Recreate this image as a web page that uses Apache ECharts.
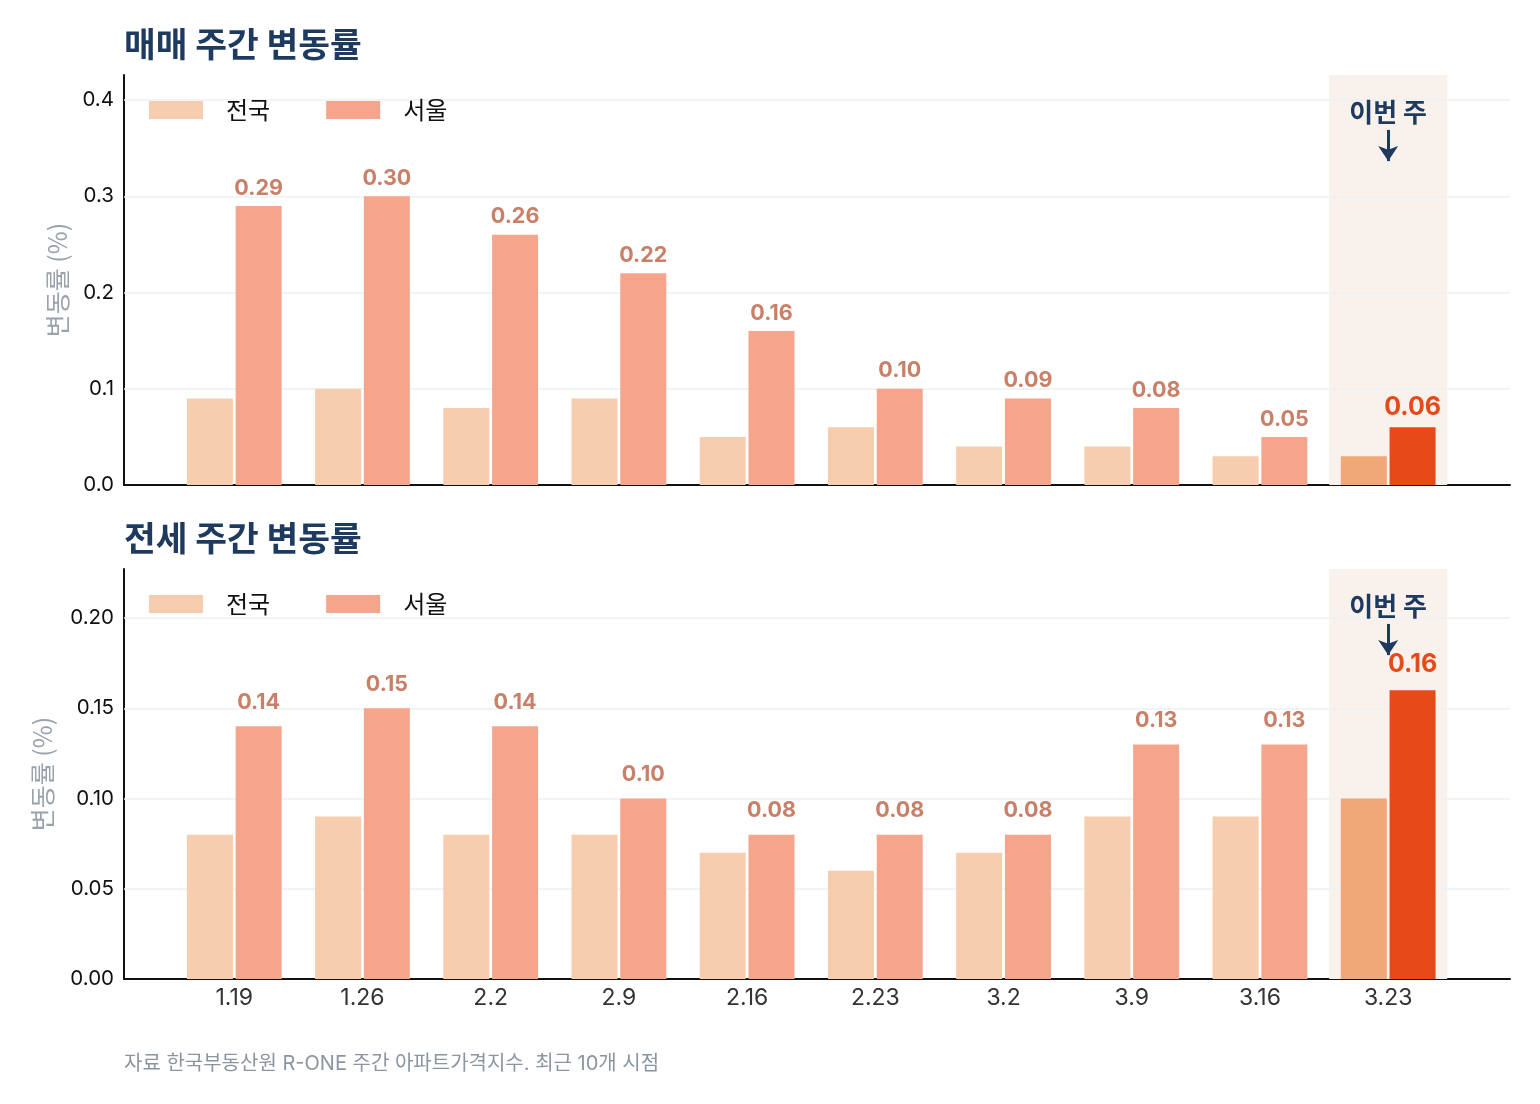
<!DOCTYPE html>
<html>
<head>
<meta charset="utf-8">
<script src="https://cdn.jsdelivr.net/npm/echarts@6/dist/echarts.min.js"></script>
<style>
  html, body { margin: 0; padding: 0; background: #fff; }
  #chart { width: 1540px; height: 1104px; }
</style>
</head>
<body>
<div id="chart"></div>
<script>
// 주간 시점
var categories = ['1.19', '1.26', '2.2', '2.9', '2.16', '2.23', '3.2', '3.9', '3.16', '3.23'];
// 매매 주간 변동률 (%)
var saleNation = [0.09, 0.10, 0.08, 0.09, 0.05, 0.06, 0.04, 0.04, 0.03, 0.03];
var saleSeoul = [0.29, 0.30, 0.26, 0.22, 0.16, 0.10, 0.09, 0.08, 0.05, 0.06];
// 전세 주간 변동률 (%)
var jeonseNation = [0.08, 0.09, 0.08, 0.08, 0.07, 0.06, 0.07, 0.09, 0.09, 0.10];
var jeonseSeoul = [0.14, 0.15, 0.14, 0.10, 0.08, 0.08, 0.08, 0.13, 0.13, 0.16];
// y축 눈금
var saleTicks = [0.1, 0.2, 0.3, 0.4];
var jeonseTicks = [0.05, 0.10, 0.15, 0.20];

var FONT = "Inter, 'Noto Sans CJK KR', sans-serif";
var KFONT = "'Noto Sans CJK KR', sans-serif";
var NAVY = '#1e3a5f';
var C_NATION = '#f6cdae';
var C_SEOUL = '#f4a58b';
var C_NATION_HI = '#f0a878';
var C_SEOUL_HI = '#e64a19';
var C_LABEL = '#c98069';

var chart = echarts.init(document.getElementById('chart'));
var last = categories.length - 1;

// 한 패널(grid) 구성
function panel(idx, nation, seoul, ticks, digits, labelDist) {
  var ymax = Math.max.apply(null, seoul) * 1.42;

  var nationData = nation.map(function (v, i) {
    var d = { value: [i, v] };
    if (i === last) d.itemStyle = { color: C_NATION_HI };
    return d;
  });
  var seoulData = seoul.map(function (v, i) {
    var d = { value: [i, v] };
    if (i === last) {
      d.itemStyle = { color: C_SEOUL_HI };
      d.label = { color: C_SEOUL_HI, fontSize: 25, fontWeight: 'bold' };
    }
    return d;
  });

  var series = [
    {
      // 배경 격자선 + 이번 주 강조 영역
      type: 'line', xAxisIndex: idx, yAxisIndex: idx, data: [], z: 1, silent: true,
      markArea: {
        silent: true, z: 1,
        itemStyle: { color: '#f9f1ec' },
        data: [[{ xAxis: last - 0.46 }, { xAxis: last + 0.46 }]]
      },
      markLine: {
        silent: true, z: 2, symbol: ['none', 'none'],
        label: { show: false },
        lineStyle: { color: '#edf0f4', width: 1.5, type: 'solid' },
        data: ticks.map(function (t) { return { yAxis: t }; })
      }
    },
    {
      name: '전국', type: 'bar', xAxisIndex: idx, yAxisIndex: idx, z: 3,
      barWidth: 46, barGap: '6%',
      itemStyle: { color: C_NATION },
      data: nationData
    },
    {
      name: '서울', type: 'bar', xAxisIndex: idx, yAxisIndex: idx, z: 3,
      barWidth: 46, barGap: '6%',
      itemStyle: { color: C_SEOUL },
      label: {
        show: true, position: 'top', distance: labelDist,
        fontFamily: FONT, fontSize: 21.5, fontWeight: 'bold', color: C_LABEL,
        formatter: function (p) { return p.value[1].toFixed(2); }
      },
      data: seoulData
    },
    {
      // "이번 주" 주석
      type: 'line', xAxisIndex: idx, yAxisIndex: idx, data: [], z: 5, silent: true,
      markPoint: {
        silent: true, symbol: 'rect', symbolSize: 1,
        itemStyle: { color: 'rgba(0,0,0,0)' },
        label: {
          show: true, position: 'inside', formatter: '이번 주',
          fontFamily: KFONT, fontSize: 26, fontWeight: 'bold', color: NAVY
        },
        data: [{ coord: [last, ymax * 0.91] }]
      },
      markLine: {
        silent: true, z: 6, symbol: ['none', 'arrow'], symbolSize: 15,
        label: { show: false },
        lineStyle: { color: NAVY, width: 3, type: 'solid' },
        data: [[{ coord: [last, ymax * 0.866] }, { coord: [last, ymax * 0.79] }]]
      }
    }
  ];

  return {
    ymax: ymax, series: series,
    yAxis: {
      type: 'value', gridIndex: idx, min: 0, max: ymax,
      interval: digits === 1 ? 0.1 : 0.05,
      name: '변동률 (%)', nameLocation: 'middle', nameGap: digits === 1 ? 54 : 69,
      nameTextStyle: { color: '#9aa3ad', fontSize: 25, fontFamily: KFONT },
      axisLine: { show: true, onZero: false, lineStyle: { color: '#111', width: 2 } },
      axisTick: { show: false },
      splitLine: { show: false },
      axisLabel: {
        color: '#111', fontSize: 20.5, fontFamily: FONT, margin: 10, showMaxLabel: false,
        formatter: function (v) { return v.toFixed(digits); }
      }
    }
  };
}

var salePanel = panel(0, saleNation, saleSeoul, saleTicks, 1, 7);
var jeonsePanel = panel(1, jeonseNation, jeonseSeoul, jeonseTicks, 2, 13);

function xAxis(idx, showLabels) {
  return {
    type: 'value', gridIndex: idx, min: -0.86, max: 9.95,
    axisLine: { show: true, onZero: false, lineStyle: { color: '#111', width: 2 } },
    axisTick: { show: false },
    splitLine: { show: false },
    axisLabel: {
      show: showLabels,
      customValues: categories.map(function (c, i) { return i; }),
      color: '#333', fontSize: 23, fontFamily: FONT, margin: 8,
      formatter: function (v) { return categories[Math.round(v)]; }
    }
  };
}

function legend(idx, topPx) {
  return {
    data: ['전국', '서울'], left: 149, top: topPx, padding: 0,
    itemWidth: 54, itemHeight: 18, itemGap: 56,
    icon: 'rect', selectedMode: false,
    textStyle: { fontFamily: KFONT, fontSize: 24, color: '#111', padding: [0, 0, 0, 18] }
  };
}

var option = {
  backgroundColor: '#fff',
  animation: false,
  title: [
    { text: '매매 주간 변동률', left: 124, top: 27, padding: 0,
      textStyle: { fontFamily: KFONT, fontSize: 34.5, fontWeight: 'bold', color: NAVY } },
    { text: '전세 주간 변동률', left: 124, top: 521, padding: 0,
      textStyle: { fontFamily: KFONT, fontSize: 34.5, fontWeight: 'bold', color: NAVY } },
    { text: '자료 한국부동산원 R-ONE 주간 아파트가격지수. 최근 10개 시점', left: 124, top: 1054, padding: 0,
      textStyle: { fontFamily: FONT, fontSize: 20, fontWeight: 'normal', color: '#8b95a1' } }
  ],
  legend: [legend(0, 98), legend(1, 592)],
  grid: [
    { left: 124, top: 75, width: 1386, height: 410 },
    { left: 124, top: 569, width: 1386, height: 410 }
  ],
  xAxis: [xAxis(0, false), xAxis(1, true)],
  yAxis: [salePanel.yAxis, jeonsePanel.yAxis],
  series: salePanel.series.concat(jeonsePanel.series)
};

chart.setOption(option);
</script>
</body>
</html>
